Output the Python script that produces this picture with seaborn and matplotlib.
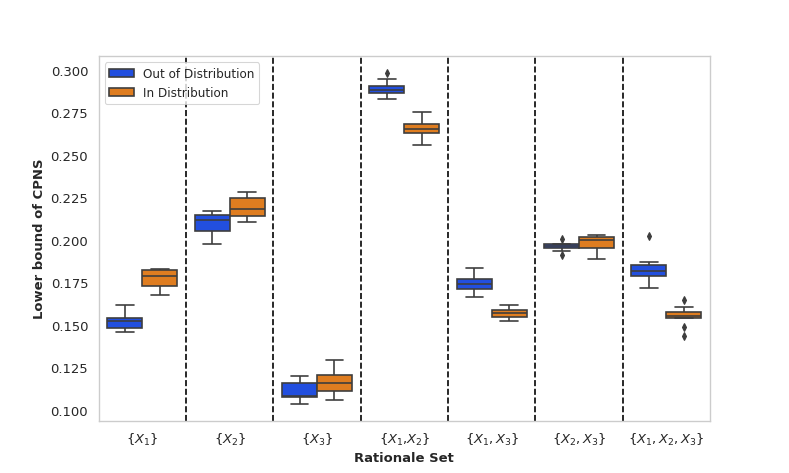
import pandas as pd
import matplotlib.pyplot as plt
import seaborn as sns

sns.set_theme(style="whitegrid")

# Rationale sets (x axis)
rationale_sets = [r'$\{X_1\}$', r'$\{X_2\}$', r'$\{X_3\}$', r'$\{X_1$,$X_2\}$',
                  r'$\{X_1, X_3\}$', r'$\{X_2, X_3\}$', r'$\{X_1, X_2, X_3\}$']
settings = ['Out of Distribution', 'In Distribution']

# Lower bound of CPNS per run
ood_values = [
    [0.1463, 0.1475, 0.1484, 0.1505, 0.1524, 0.1535, 0.1543, 0.1580, 0.1620],
    [0.1978, 0.2020, 0.2057, 0.2090, 0.2120, 0.2140, 0.2151, 0.2160, 0.2171],
    [0.1035, 0.1060, 0.1078, 0.1081, 0.1084, 0.1120, 0.1160, 0.1180, 0.1202],
    [0.2831, 0.2850, 0.2867, 0.2875, 0.2882, 0.2895, 0.2908, 0.2947, 0.2984],
    [0.1669, 0.1690, 0.1714, 0.1730, 0.1743, 0.1758, 0.1772, 0.1800, 0.1837],
    [0.1914, 0.1935, 0.1955, 0.1960, 0.1965, 0.1970, 0.1976, 0.1981, 0.2010],
    [0.1722, 0.1760, 0.1790, 0.1805, 0.1819, 0.1835, 0.1853, 0.1875, 0.2025],
]
ind_values = [
    [0.1681, 0.1705, 0.1731, 0.1760, 0.1792, 0.1810, 0.1828, 0.1831, 0.1834],
    [0.2108, 0.2125, 0.2143, 0.2165, 0.2186, 0.2220, 0.2251, 0.2270, 0.2284],
    [0.1061, 0.1090, 0.1116, 0.1140, 0.1163, 0.1190, 0.1210, 0.1250, 0.1294],
    [0.2563, 0.2600, 0.2633, 0.2645, 0.2657, 0.2670, 0.2686, 0.2720, 0.2755],
    [0.1528, 0.1540, 0.1549, 0.1560, 0.1571, 0.1582, 0.1592, 0.1605, 0.1618],
    [0.1892, 0.1925, 0.1955, 0.1980, 0.2002, 0.2010, 0.2018, 0.2024, 0.2029],
    [0.1437, 0.1490, 0.1543, 0.1550, 0.1555, 0.1565, 0.1576, 0.1610, 0.1647],
]

rows = []
for name, vals in zip(rationale_sets, ood_values):
    for v in vals:
        rows.append((name, settings[0], v))
for name, vals in zip(rationale_sets, ind_values):
    for v in vals:
        rows.append((name, settings[1], v))
df = pd.DataFrame(rows, columns=['Rationale Set', 'Setting', 'Lower bound of CPNS'])

fig, ax = plt.subplots(figsize=(10, 6), dpi=78.9)
gray = '#3d3d3d'
sns.boxplot(data=df, x='Rationale Set', y='Lower bound of CPNS', hue='Setting',
            order=rationale_sets, hue_order=settings, palette='bright',
            linecolor=gray, linewidth=1.5, fliersize=5,
            flierprops=dict(marker='d', markerfacecolor=gray, markeredgecolor=gray),
            ax=ax)
ax.grid(False)

# separators between rationale sets
for i in range(len(rationale_sets) - 1):
    ax.axvline(i + 0.5, color='black', linestyle='--', linewidth=1.5)

ax.set_xlabel('Rationale Set', fontsize=12, fontweight='bold')
ax.set_ylabel('Lower bound of CPNS', fontsize=12, fontweight='bold')
ax.tick_params(axis='both', labelsize=12)
sns.move_legend(ax, 'upper left', title=None, fontsize=11)

plt.savefig('out.png', dpi=78.9)
